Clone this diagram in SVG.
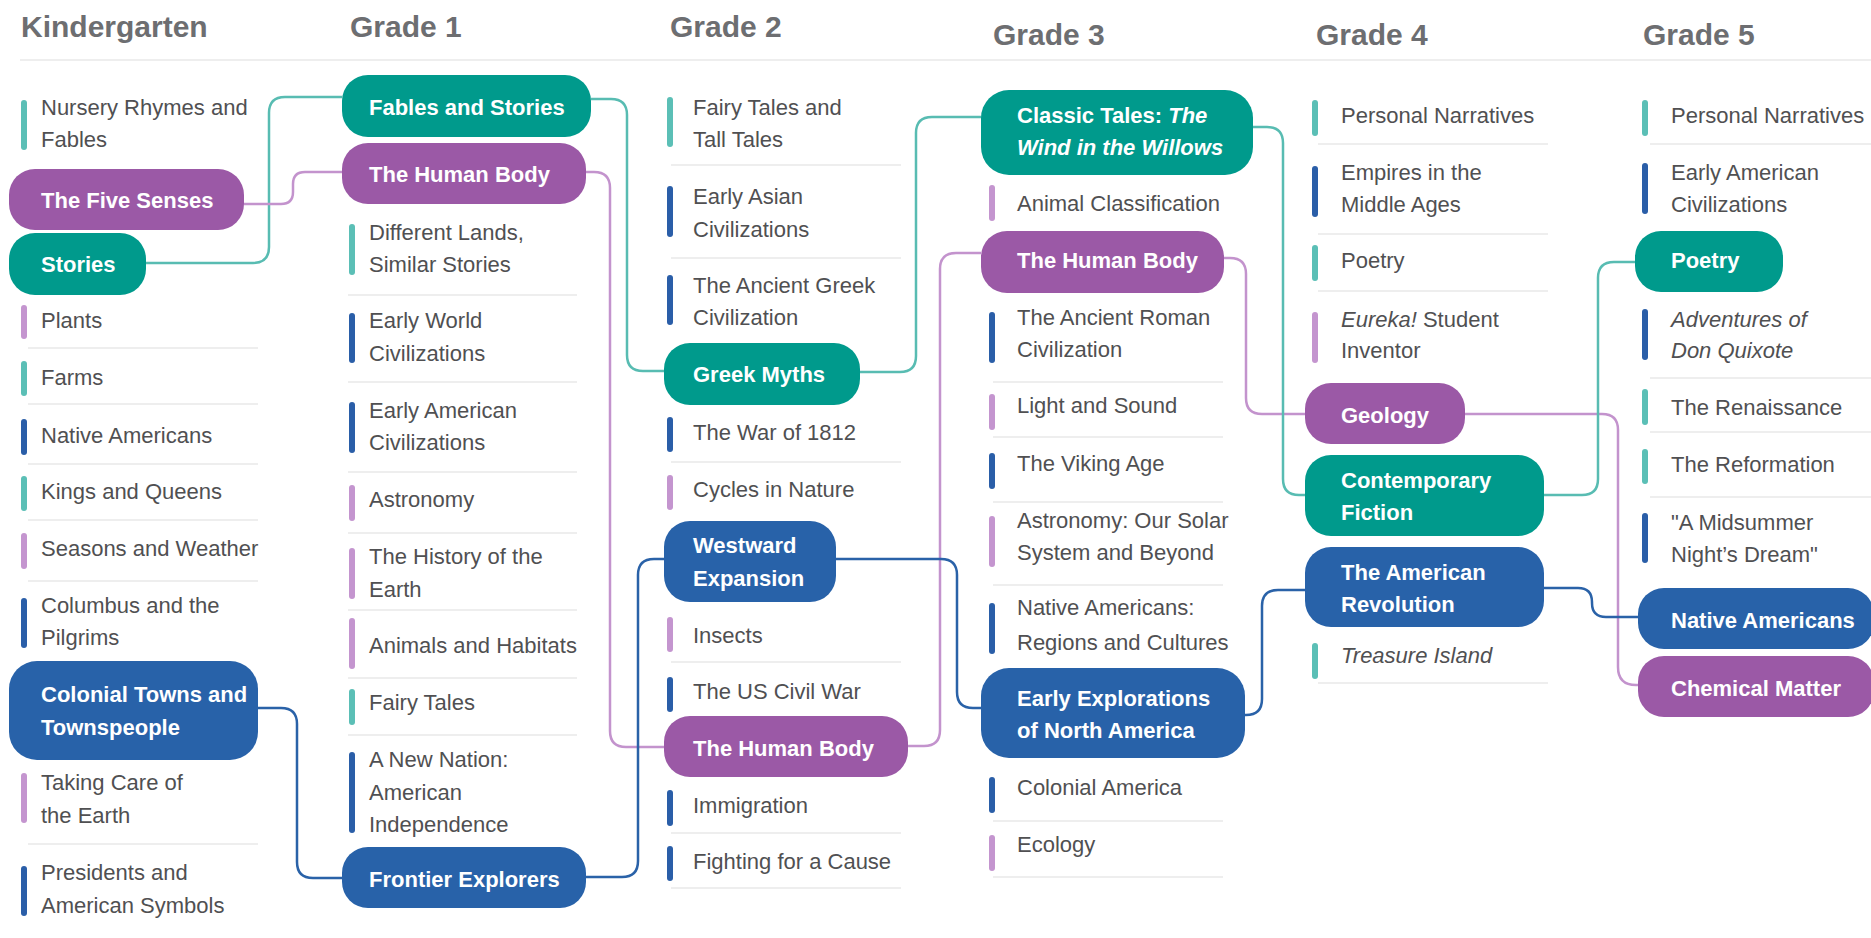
<svg xmlns="http://www.w3.org/2000/svg" width="1871" height="938" viewBox="0 0 1871 938">
<style>
text{font-family:"Liberation Sans",Arial,sans-serif}
.hdr{font-size:30px;font-weight:700;fill:#6d6e71}
.it{font-size:22px;fill:#505052}
.pt{font-size:22px;font-weight:700;fill:#ffffff}
.i{font-style:italic}
.bt{fill:#5bbfb6}.bp{fill:#c495cf}.bb{fill:#2a5ea8}
.pT{fill:#009a8c}.pP{fill:#9b59a6}.pB{fill:#2862a9}
.sep{stroke:#eeeeee;stroke-width:2}
.c{fill:none;stroke-width:2.5}
.cT{stroke:#58bcb2}.cP{stroke:#c393cd}.cB{stroke:#2a62a8}
</style>
<rect width="1871" height="938" fill="#ffffff"/>
<g id="headers">
<text class="hdr" x="21" y="37">Kindergarten</text>
<text class="hdr" x="350" y="37">Grade 1</text>
<text class="hdr" x="670" y="37">Grade 2</text>
<text class="hdr" x="993" y="45">Grade 3</text>
<text class="hdr" x="1316" y="45">Grade 4</text>
<text class="hdr" x="1643" y="45">Grade 5</text>
<line class="sep" x1="20" y1="60" x2="1871" y2="60"/>
</g>
<g id="connectors">
<path class="c cT" d="M146,263 H253 Q269,263 269,247 V113 Q269,97 285,97 H342"/>
<path class="c cP" d="M244,204 H281 Q293,204 293,192 V184 Q293,172 305,172 H342"/>
<path class="c cT" d="M591,99 H611 Q627,99 627,115 V355 Q627,371 643,371 H664"/>
<path class="c cT" d="M860,372 H900 Q916,372 916,356 V133 Q916,117 932,117 H981"/>
<path class="c cP" d="M586,172 H594 Q610,172 610,188 V731 Q610,747 626,747 H664"/>
<path class="c cP" d="M908,746 H924 Q940,746 940,730 V269 Q940,253 956,253 H981"/>
<path class="c cP" d="M1224,258 H1230 Q1246,258 1246,274 V398 Q1246,414 1262,414 H1305"/>
<path class="c cP" d="M1465,414 H1602 Q1618,414 1618,430 V667 Q1618,685 1636,685 H1640"/>
<path class="c cT" d="M1253,127 H1267 Q1283,127 1283,143 V479 Q1283,495 1299,495 H1305"/>
<path class="c cT" d="M1544,495 H1582 Q1598,495 1598,479 V278 Q1598,262 1614,262 H1635"/>
<path class="c cB" d="M258,708 H281 Q297,708 297,724 V862 Q297,878 313,878 H342"/>
<path class="c cB" d="M586,877 H622 Q638,877 638,861 V575 Q638,559 654,559 H664"/>
<path class="c cB" d="M836,559 H941 Q957,559 957,575 V692 Q957,708 973,708 H981"/>
<path class="c cB" d="M1245,715 H1246 Q1262,715 1262,699 V606 Q1262,590 1278,590 H1305"/>
<path class="c cB" d="M1544,588 H1578 Q1592,588 1592,602 V603 Q1592,617 1606,617 H1638"/>
</g>
<!-- Kindergarten -->
<g id="k-nursery"><rect class="bt" x="21" y="100" width="6" height="50" rx="3"/><text class="it" x="41" y="115">Nursery Rhymes and</text><text class="it" x="41" y="147">Fables</text></g>
<g id="k-fivesenses"><rect class="pP" x="9" y="169" width="235" height="61" rx="26"/><text class="pt" x="41" y="208">The Five Senses</text></g>
<g id="k-stories"><rect class="pT" x="9" y="233" width="137" height="62" rx="26"/><text class="pt" x="41" y="272">Stories</text></g>
<g id="k-plants"><rect class="bp" x="21" y="305" width="6" height="34" rx="3"/><text class="it" x="41" y="328">Plants</text><line class="sep" x1="28" y1="348" x2="258" y2="348"/></g>
<g id="k-farms"><rect class="bt" x="21" y="361" width="6" height="35" rx="3"/><text class="it" x="41" y="385">Farms</text><line class="sep" x1="28" y1="404" x2="258" y2="404"/></g>
<g id="k-native"><rect class="bb" x="21" y="419" width="6" height="36" rx="3"/><text class="it" x="41" y="443">Native Americans</text><line class="sep" x1="28" y1="464" x2="258" y2="464"/></g>
<g id="k-kings"><rect class="bt" x="21" y="476" width="6" height="35" rx="3"/><text class="it" x="41" y="499">Kings and Queens</text><line class="sep" x1="28" y1="520" x2="258" y2="520"/></g>
<g id="k-seasons"><rect class="bp" x="21" y="533" width="6" height="36" rx="3"/><text class="it" x="41" y="556">Seasons and Weather</text><line class="sep" x1="28" y1="581" x2="258" y2="581"/></g>
<g id="k-columbus"><rect class="bb" x="21" y="598" width="6" height="50" rx="3"/><text class="it" x="41" y="613">Columbus and the</text><text class="it" x="41" y="645">Pilgrims</text></g>
<g id="k-colonial"><rect class="pB" x="9" y="661" width="249" height="99" rx="28"/><text class="pt" x="41" y="702">Colonial Towns and</text><text class="pt" x="41" y="735">Townspeople</text></g>
<g id="k-earth"><rect class="bp" x="21" y="773" width="6" height="50" rx="3"/><text class="it" x="41" y="790">Taking Care of</text><text class="it" x="41" y="823">the Earth</text><line class="sep" x1="28" y1="844" x2="258" y2="844"/></g>
<g id="k-presidents"><rect class="bb" x="21" y="866" width="6" height="50" rx="3"/><text class="it" x="41" y="880">Presidents and</text><text class="it" x="41" y="913">American Symbols</text></g>
<!-- Grade 1 -->
<g id="g1-fables"><rect class="pT" x="342" y="75" width="249" height="62" rx="26"/><text class="pt" x="369" y="115">Fables and Stories</text></g>
<g id="g1-body"><rect class="pP" x="342" y="143" width="244" height="61" rx="26"/><text class="pt" x="369" y="182">The Human Body</text></g>
<g id="g1-lands"><rect class="bt" x="349" y="224" width="6" height="51" rx="3"/><text class="it" x="369" y="240">Different Lands,</text><text class="it" x="369" y="272">Similar Stories</text><line class="sep" x1="348" y1="295" x2="577" y2="295"/></g>
<g id="g1-world"><rect class="bb" x="349" y="313" width="6" height="50" rx="3"/><text class="it" x="369" y="328">Early World</text><text class="it" x="369" y="361">Civilizations</text><line class="sep" x1="348" y1="382" x2="577" y2="382"/></g>
<g id="g1-american"><rect class="bb" x="349" y="402" width="6" height="51" rx="3"/><text class="it" x="369" y="418">Early American</text><text class="it" x="369" y="450">Civilizations</text><line class="sep" x1="348" y1="472" x2="577" y2="472"/></g>
<g id="g1-astronomy"><rect class="bp" x="349" y="485" width="6" height="36" rx="3"/><text class="it" x="369" y="507">Astronomy</text><line class="sep" x1="348" y1="533" x2="577" y2="533"/></g>
<g id="g1-history"><rect class="bp" x="349" y="548" width="6" height="51" rx="3"/><text class="it" x="369" y="564">The History of the</text><text class="it" x="369" y="597">Earth</text><line class="sep" x1="348" y1="610" x2="577" y2="610"/></g>
<g id="g1-animals"><rect class="bp" x="349" y="618" width="6" height="51" rx="3"/><text class="it" x="369" y="653">Animals and Habitats</text><line class="sep" x1="348" y1="678" x2="577" y2="678"/></g>
<g id="g1-fairy"><rect class="bt" x="349" y="689" width="6" height="36" rx="3"/><text class="it" x="369" y="710">Fairy Tales</text><line class="sep" x1="348" y1="735" x2="577" y2="735"/></g>
<g id="g1-nation"><rect class="bb" x="349" y="752" width="6" height="81" rx="3"/><text class="it" x="369" y="767">A New Nation:</text><text class="it" x="369" y="800">American</text><text class="it" x="369" y="832">Independence</text></g>
<g id="g1-frontier"><rect class="pB" x="342" y="847" width="244" height="61" rx="26"/><text class="pt" x="369" y="887">Frontier Explorers</text></g>
<!-- Grade 2 -->
<g id="g2-fairy"><rect class="bt" x="667" y="97" width="6" height="50" rx="3"/><text class="it" x="693" y="115">Fairy Tales and</text><text class="it" x="693" y="147">Tall Tales</text><line class="sep" x1="671" y1="165" x2="901" y2="165"/></g>
<g id="g2-asian"><rect class="bb" x="667" y="186" width="6" height="51" rx="3"/><text class="it" x="693" y="204">Early Asian</text><text class="it" x="693" y="237">Civilizations</text><line class="sep" x1="671" y1="258" x2="901" y2="258"/></g>
<g id="g2-greek"><rect class="bb" x="667" y="275" width="6" height="50" rx="3"/><text class="it" x="693" y="293">The Ancient Greek</text><text class="it" x="693" y="325">Civilization</text></g>
<g id="g2-myths"><rect class="pT" x="664" y="343" width="196" height="62" rx="26"/><text class="pt" x="693" y="382">Greek Myths</text></g>
<g id="g2-1812"><rect class="bb" x="667" y="417" width="6" height="35" rx="3"/><text class="it" x="693" y="440">The War of 1812</text><line class="sep" x1="671" y1="462" x2="901" y2="462"/></g>
<g id="g2-cycles"><rect class="bp" x="667" y="475" width="6" height="35" rx="3"/><text class="it" x="693" y="497">Cycles in Nature</text></g>
<g id="g2-westward"><rect class="pB" x="664" y="521" width="172" height="81" rx="26"/><text class="pt" x="693" y="553">Westward</text><text class="pt" x="693" y="586">Expansion</text></g>
<g id="g2-insects"><rect class="bp" x="667" y="617" width="6" height="35" rx="3"/><text class="it" x="693" y="643">Insects</text><line class="sep" x1="671" y1="662" x2="901" y2="662"/></g>
<g id="g2-civilwar"><rect class="bb" x="667" y="677" width="6" height="35" rx="3"/><text class="it" x="693" y="699">The US Civil War</text></g>
<g id="g2-body"><rect class="pP" x="664" y="716" width="244" height="61" rx="26"/><text class="pt" x="693" y="756">The Human Body</text></g>
<g id="g2-immigration"><rect class="bb" x="667" y="790" width="6" height="36" rx="3"/><text class="it" x="693" y="813">Immigration</text><line class="sep" x1="671" y1="833" x2="901" y2="833"/></g>
<g id="g2-fighting"><rect class="bb" x="667" y="846" width="6" height="35" rx="3"/><text class="it" x="693" y="869">Fighting for a Cause</text><line class="sep" x1="671" y1="888" x2="901" y2="888"/></g>
<!-- Grade 3 -->
<g id="g3-classic"><rect class="pT" x="981" y="90" width="272" height="85" rx="28"/><text class="pt" x="1017" y="123">Classic Tales: <tspan class="i">The</tspan></text><text class="pt i" x="1017" y="155">Wind in the Willows</text></g>
<g id="g3-animal"><rect class="bp" x="989" y="185" width="6" height="36" rx="3"/><text class="it" x="1017" y="211">Animal Classification</text></g>
<g id="g3-body"><rect class="pP" x="981" y="231" width="243" height="62" rx="26"/><text class="pt" x="1017" y="268">The Human Body</text></g>
<g id="g3-roman"><rect class="bb" x="989" y="312" width="6" height="51" rx="3"/><text class="it" x="1017" y="325">The Ancient Roman</text><text class="it" x="1017" y="357">Civilization</text><line class="sep" x1="993" y1="382" x2="1223" y2="382"/></g>
<g id="g3-light"><rect class="bp" x="989" y="394" width="6" height="36" rx="3"/><text class="it" x="1017" y="413">Light and Sound</text><line class="sep" x1="993" y1="437" x2="1223" y2="437"/></g>
<g id="g3-viking"><rect class="bb" x="989" y="453" width="6" height="36" rx="3"/><text class="it" x="1017" y="471">The Viking Age</text><line class="sep" x1="993" y1="502" x2="1223" y2="502"/></g>
<g id="g3-solar"><rect class="bp" x="989" y="516" width="6" height="51" rx="3"/><text class="it" x="1017" y="528">Astronomy: Our Solar</text><text class="it" x="1017" y="560">System and Beyond</text><line class="sep" x1="993" y1="585" x2="1223" y2="585"/></g>
<g id="g3-native"><rect class="bb" x="989" y="603" width="6" height="51" rx="3"/><text class="it" x="1017" y="615">Native Americans:</text><text class="it" x="1017" y="650">Regions and Cultures</text></g>
<g id="g3-explorations"><rect class="pB" x="981" y="668" width="264" height="90" rx="28"/><text class="pt" x="1017" y="706">Early Explorations</text><text class="pt" x="1017" y="738">of North America</text></g>
<g id="g3-colonial"><rect class="bb" x="989" y="777" width="6" height="36" rx="3"/><text class="it" x="1017" y="795">Colonial America</text><line class="sep" x1="993" y1="821" x2="1223" y2="821"/></g>
<g id="g3-ecology"><rect class="bp" x="989" y="835" width="6" height="36" rx="3"/><text class="it" x="1017" y="852">Ecology</text><line class="sep" x1="993" y1="877" x2="1223" y2="877"/></g>
<!-- Grade 4 -->
<g id="g4-personal"><rect class="bt" x="1312" y="100" width="6" height="36" rx="3"/><text class="it" x="1341" y="123">Personal Narratives</text><line class="sep" x1="1318" y1="144" x2="1548" y2="144"/></g>
<g id="g4-empires"><rect class="bb" x="1312" y="166" width="6" height="51" rx="3"/><text class="it" x="1341" y="180">Empires in the</text><text class="it" x="1341" y="212">Middle Ages</text><line class="sep" x1="1318" y1="234" x2="1548" y2="234"/></g>
<g id="g4-poetry"><rect class="bt" x="1312" y="245" width="6" height="36" rx="3"/><text class="it" x="1341" y="268">Poetry</text><line class="sep" x1="1318" y1="291" x2="1548" y2="291"/></g>
<g id="g4-eureka"><rect class="bp" x="1312" y="312" width="6" height="51" rx="3"/><text class="it" x="1341" y="327"><tspan class="i">Eureka!</tspan> Student</text><text class="it" x="1341" y="358">Inventor</text></g>
<g id="g4-geology"><rect class="pP" x="1305" y="383" width="160" height="61" rx="26"/><text class="pt" x="1341" y="423">Geology</text></g>
<g id="g4-fiction"><rect class="pT" x="1305" y="455" width="239" height="81" rx="26"/><text class="pt" x="1341" y="488">Contemporary</text><text class="pt" x="1341" y="520">Fiction</text></g>
<g id="g4-revolution"><rect class="pB" x="1305" y="547" width="239" height="80" rx="26"/><text class="pt" x="1341" y="580">The American</text><text class="pt" x="1341" y="612">Revolution</text></g>
<g id="g4-treasure"><rect class="bt" x="1312" y="643" width="6" height="36" rx="3"/><text class="it i" x="1341" y="663">Treasure Island</text><line class="sep" x1="1318" y1="683" x2="1548" y2="683"/></g>
<!-- Grade 5 -->
<g id="g5-personal"><rect class="bt" x="1642" y="100" width="6" height="36" rx="3"/><text class="it" x="1671" y="123">Personal Narratives</text><line class="sep" x1="1650" y1="144" x2="1871" y2="144"/></g>
<g id="g5-american"><rect class="bb" x="1642" y="163" width="6" height="51" rx="3"/><text class="it" x="1671" y="180">Early American</text><text class="it" x="1671" y="212">Civilizations</text></g>
<g id="g5-poetry"><rect class="pT" x="1635" y="231" width="148" height="61" rx="26"/><text class="pt" x="1671" y="268">Poetry</text></g>
<g id="g5-quixote"><rect class="bb" x="1642" y="309" width="6" height="51" rx="3"/><text class="it i" x="1671" y="327">Adventures of</text><text class="it i" x="1671" y="358">Don Quixote</text><line class="sep" x1="1650" y1="378" x2="1871" y2="378"/></g>
<g id="g5-renaissance"><rect class="bt" x="1642" y="389" width="6" height="36" rx="3"/><text class="it" x="1671" y="415">The Renaissance</text><line class="sep" x1="1650" y1="432" x2="1871" y2="432"/></g>
<g id="g5-reformation"><rect class="bt" x="1642" y="449" width="6" height="35" rx="3"/><text class="it" x="1671" y="472">The Reformation</text><line class="sep" x1="1650" y1="497" x2="1871" y2="497"/></g>
<g id="g5-midsummer"><rect class="bb" x="1642" y="513" width="6" height="50" rx="3"/><text class="it" x="1671" y="530">"A Midsummer</text><text class="it" x="1671" y="562">Night’s Dream"</text></g>
<g id="g5-native"><rect class="pB" x="1638" y="588" width="236" height="61" rx="26"/><text class="pt" x="1671" y="628">Native Americans</text></g>
<g id="g5-chemical"><rect class="pP" x="1638" y="656" width="236" height="61" rx="26"/><text class="pt" x="1671" y="696">Chemical Matter</text></g>
</svg>
